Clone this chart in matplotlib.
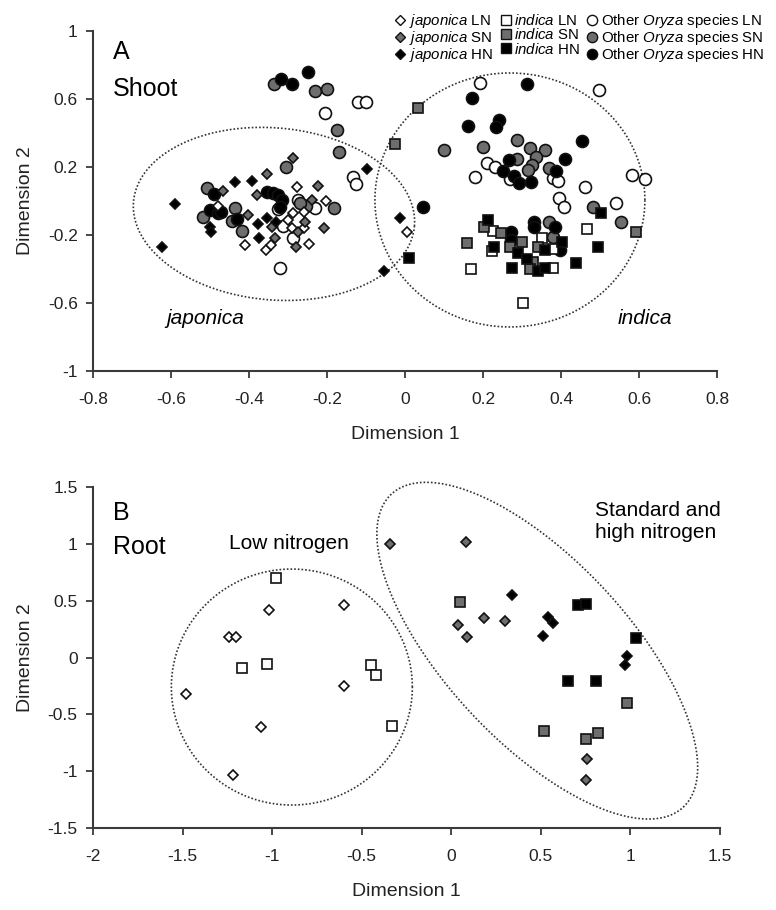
import numpy as np
import matplotlib
matplotlib.use("Agg")
import matplotlib.pyplot as plt
from matplotlib.lines import Line2D
from matplotlib.ticker import FuncFormatter

plt.rcParams['font.family'] = ['Liberation Sans', 'DejaVu Sans']
plt.rcParams['mathtext.fontset'] = 'custom'
plt.rcParams['mathtext.rm'] = 'Liberation Sans'
plt.rcParams['mathtext.it'] = 'Liberation Sans:italic'

# ---------------- Panel A (Shoot) data ----------------
jap_LN_A_x = [-0.278, -0.203, -0.286, -0.260, -0.299, -0.258, -0.290, -0.410, -0.356, -0.344, -0.245, -0.479, 0.004]
jap_LN_A_y = [0.084, 0.002, -0.073, -0.063, -0.112, -0.157, -0.157, -0.260, -0.288, -0.260, -0.250, -0.027, -0.180]
jap_SN_A_x = [-0.286, -0.355, -0.466, -0.380, -0.224, -0.239, -0.402, -0.342, -0.256, -0.274, -0.333, -0.280, -0.207]
jap_SN_A_y = [0.255, 0.157, 0.059, 0.035, 0.090, 0.006, -0.082, -0.151, -0.122, -0.184, -0.220, -0.270, -0.160]
jap_HN_A_x = [-0.097, -0.393, -0.436, -0.590, -0.500, -0.497, -0.376, -0.355, -0.331, -0.374, -0.622, -0.013, -0.054]
jap_HN_A_y = [0.190, 0.120, 0.110, -0.018, -0.150, -0.184, -0.137, -0.098, -0.122, -0.220, -0.270, -0.098, -0.410]

ind_LN_A_x = [0.466, 0.225, 0.222, 0.379, 0.168, 0.302, 0.350, 0.379]
ind_LN_A_y = [-0.167, -0.175, -0.292, -0.396, -0.402, -0.598, -0.220, -0.284]
ind_SN_A_x = [0.033, -0.026, 0.592, 0.160, 0.203, 0.245, 0.269, 0.299, 0.329, 0.321, 0.340]
ind_SN_A_y = [0.545, 0.333, -0.184, -0.245, -0.151, -0.190, -0.269, -0.239, -0.357, -0.400, -0.269]
ind_HN_A_x = [0.009, 0.503, 0.496, 0.438, 0.212, 0.229, 0.289, 0.312, 0.342, 0.359, 0.274, 0.359, 0.402]
ind_HN_A_y = [-0.337, -0.073, -0.269, -0.363, -0.112, -0.269, -0.308, -0.341, -0.412, -0.396, -0.396, -0.288, -0.239]

oth_LN_A_x = [-0.120, -0.100, -0.205, -0.134, -0.126, -0.274, -0.230, -0.326, -0.312, -0.286, -0.320,
              0.192, 0.498, 0.211, 0.231, 0.179, 0.269, 0.380, 0.393, 0.462, 0.581, 0.615, 0.395, 0.408, 0.540]
oth_LN_A_y = [0.580, 0.580, 0.520, 0.140, 0.100, 0.006, -0.043, -0.049, -0.147, -0.220, -0.396,
              0.692, 0.653, 0.222, 0.198, 0.139, 0.129, 0.133, 0.119, 0.080, 0.153, 0.129, 0.016, -0.033, -0.014]
oth_SN_A_x = [-0.335, -0.230, -0.200, -0.175, -0.170, -0.306, -0.508, -0.255, -0.182, -0.519, -0.436, -0.444, -0.417, -0.270,
              0.101, 0.201, 0.288, 0.321, 0.359, 0.335, 0.325, 0.316, 0.286, 0.370, 0.483, 0.553, 0.370, 0.379]
oth_SN_A_y = [0.686, 0.650, 0.660, 0.420, 0.290, 0.200, 0.075, -0.030, -0.040, -0.096, -0.043, -0.118, -0.176, -0.010,
              0.300, 0.316, 0.359, 0.310, 0.300, 0.260, 0.212, 0.182, 0.245, 0.196, -0.033, -0.122, -0.122, -0.214]
oth_HN_A_x = [-0.318, -0.290, -0.250, -0.490, -0.355, -0.338, -0.325, -0.316, -0.320, -0.500, -0.479, -0.473, -0.430,
              0.312, 0.173, 0.162, 0.241, 0.233, 0.455, 0.409, 0.267, 0.252, 0.386, 0.280, 0.292, 0.322, 0.045,
              0.272, 0.272, 0.331, 0.331, 0.385, 0.397]
oth_HN_A_y = [0.720, 0.690, 0.760, 0.040, 0.055, 0.045, 0.035, 0.006, -0.033, -0.053, -0.069, -0.063, -0.108,
              0.688, 0.604, 0.443, 0.476, 0.437, 0.355, 0.247, 0.241, 0.178, 0.176, 0.147, 0.108, 0.114, -0.037,
              -0.180, -0.229, -0.122, -0.151, -0.151, -0.288]

# ---------------- Panel B (Root) data ----------------
jap_LN_B_x = [-1.02, -0.60, -1.24, -1.20, -1.48, -0.60, -1.06, -1.22]
jap_LN_B_y = [0.42, 0.46, 0.18, 0.18, -0.32, -0.25, -0.61, -1.03]
ind_LN_B_x = [-0.98, -1.17, -1.03, -0.45, -0.42, -0.33]
ind_LN_B_y = [0.70, -0.09, -0.06, -0.07, -0.15, -0.60]
jap_SN_B_x = [-0.34, 0.08, 0.04, 0.09, 0.18, 0.30, 0.76, 0.75]
jap_SN_B_y = [1.00, 1.02, 0.29, 0.18, 0.35, 0.32, -0.89, -1.08]
ind_SN_B_x = [0.05, 0.98, 0.52, 0.75, 0.82]
ind_SN_B_y = [0.49, -0.40, -0.65, -0.72, -0.66]
jap_HN_B_x = [0.34, 0.54, 0.57, 0.51, 0.98, 0.97]
jap_HN_B_y = [0.55, 0.36, 0.30, 0.19, 0.01, -0.07]
ind_HN_B_x = [0.71, 0.75, 1.03, 0.65, 0.81]
ind_HN_B_y = [0.46, 0.47, 0.17, -0.21, -0.21]

xticks_A = [-0.8, -0.6, -0.4, -0.2, 0, 0.2, 0.4, 0.6, 0.8]
yticks_A = [-1, -0.6, -0.2, 0.2, 0.6, 1]
xticks_B = [-2, -1.5, -1, -0.5, 0, 0.5, 1, 1.5]
yticks_B = [-1.5, -1, -0.5, 0, 0.5, 1, 1.5]

GRAY = '#6e6e6e'
EDGE = '#111111'
AXC = '#3a3a3a'

W, H, DPI = 7.76, 9.10, 100
fig = plt.figure(figsize=(W, H), dpi=DPI)
axA = fig.add_axes([93/776, 1-371/910, 624/776, 340/910])
axB = fig.add_axes([93/776, 1-828/910, 627/776, 341/910])

fmt = FuncFormatter(lambda v, p: ('%g' % round(v, 2)))


def style(ax, xt, yt):
    ax.set_xticks(xt)
    ax.set_yticks(yt)
    ax.set_xlim(xt[0], xt[-1])
    ax.set_ylim(yt[0], yt[-1])
    ax.xaxis.set_major_formatter(fmt)
    ax.yaxis.set_major_formatter(fmt)
    for s in ['top', 'right']:
        ax.spines[s].set_visible(False)
    for s in ['left', 'bottom']:
        ax.spines[s].set_color(AXC)
        ax.spines[s].set_linewidth(1.5)
    ax.tick_params(direction='out', length=5, width=1.3, color=AXC,
                   labelsize=12.5, labelcolor='#222222')
    ax.tick_params(axis='x', pad=10)
    ax.tick_params(axis='y', pad=6)
    ax.set_xlabel('Dimension 1', fontsize=14, color='#222222', labelpad=14)
    ax.set_ylabel('Dimension 2', fontsize=14, color='#222222', labelpad=10)


def ellipse(ax, cx, cy, a_px, b_px, ang_deg):
    pos = ax.get_position()
    x0, x1 = ax.get_xlim()
    y0, y1 = ax.get_ylim()
    sx = pos.width * W * DPI / (x1 - x0)
    sy = pos.height * H * DPI / (y1 - y0)
    t = np.linspace(0, 2 * np.pi, 400)
    th = np.deg2rad(ang_deg)
    dx = a_px * np.cos(t) * np.cos(th) - b_px * np.sin(t) * np.sin(th)
    dy = a_px * np.cos(t) * np.sin(th) + b_px * np.sin(t) * np.cos(th)
    ax.plot(cx + dx / sx, cy + dy / sy, ls=(0, (1, 1.2)), color='#333333',
            lw=1.2, clip_on=False, zorder=1)


def pts(ax, x, y, marker, fc, ms, label=None):
    ax.plot(x, y, ls='none', marker=marker, mfc=fc, mec=EDGE, mew=1.2,
            ms=ms, label=label, zorder=3)


style(axA, xticks_A, yticks_A)
style(axB, xticks_B, yticks_B)

# Panel A
ellipse(axA, -0.336, -0.076, 141, 86, -5)
ellipse(axA, 0.269, 0.006, 135, 127, 0)

MS_O, MS_S, MS_D = 8.6, 7.6, 5.4
pts(axA, oth_LN_A_x, oth_LN_A_y, 'o', 'white', MS_O)
pts(axA, oth_SN_A_x, oth_SN_A_y, 'o', GRAY, MS_O)
pts(axA, oth_HN_A_x, oth_HN_A_y, 'o', 'black', MS_O)
pts(axA, ind_LN_A_x, ind_LN_A_y, 's', 'white', MS_S)
pts(axA, ind_SN_A_x, ind_SN_A_y, 's', GRAY, MS_S)
pts(axA, ind_HN_A_x, ind_HN_A_y, 's', 'black', MS_S)
pts(axA, jap_LN_A_x, jap_LN_A_y, 'D', 'white', MS_D)
pts(axA, jap_SN_A_x, jap_SN_A_y, 'D', GRAY, MS_D)
pts(axA, jap_HN_A_x, jap_HN_A_y, 'D', 'black', MS_D)

axA.text(0.032, 0.938, 'A', transform=axA.transAxes, fontsize=18, va='center', ha='left')
axA.text(0.032, 0.829, 'Shoot', transform=axA.transAxes, fontsize=18, va='center', ha='left')
axA.text(-0.513, -0.69, 'japonica', fontsize=15, style='italic', ha='center', va='center')
axA.text(0.615, -0.69, 'indica', fontsize=15, style='italic', ha='center', va='center')

# Legend
def h(marker, fc, ms):
    return Line2D([], [], ls='none', marker=marker, mfc=fc, mec=EDGE, mew=1.0, ms=ms)

handles = [h('D', 'white', 5.0), h('D', GRAY, 5.0), h('D', 'black', 5.0),
           h('s', 'white', 7.0), h('s', GRAY, 7.0), h('s', 'black', 7.0),
           h('o', 'white', 7.4), h('o', GRAY, 7.4), h('o', 'black', 7.4)]
labels = [r'$\it{japonica}$ LN', r'$\it{japonica}$ SN', r'$\it{japonica}$ HN',
          r'$\it{indica}$ LN', r'$\it{indica}$ SN', r'$\it{indica}$ HN',
          r'Other $\it{Oryza}$ species LN', r'Other $\it{Oryza}$ species SN', r'Other $\it{Oryza}$ species HN']
fig.legend(handles, labels, ncol=3, loc='upper right', bbox_to_anchor=(764/776, 1 - 12/910),
           frameon=False, fontsize=10.8, handlelength=0.8, handletextpad=0.15,
           columnspacing=0.45, labelspacing=-0.05, borderpad=0, borderaxespad=0)

# Panel B
ellipse(axB, -0.89, -0.26, 120.5, 118, 0)
ellipse(axB, 0.48, 0.06, 214, 91, -47)

MSB_S, MSB_D = 7.8, 5.0
pts(axB, jap_LN_B_x, jap_LN_B_y, 'D', 'white', MSB_D)
pts(axB, ind_LN_B_x, ind_LN_B_y, 's', 'white', MSB_S)
pts(axB, jap_SN_B_x, jap_SN_B_y, 'D', GRAY, MSB_D)
pts(axB, ind_SN_B_x, ind_SN_B_y, 's', GRAY, MSB_S)
pts(axB, jap_HN_B_x, jap_HN_B_y, 'D', 'black', MSB_D)
pts(axB, ind_HN_B_x, ind_HN_B_y, 's', 'black', MSB_S)

axB.text(0.032, 0.924, 'B', transform=axB.transAxes, fontsize=18, va='center', ha='left')
axB.text(0.032, 0.824, 'Root', transform=axB.transAxes, fontsize=18, va='center', ha='left')
axB.text(-1.24, 1.0, 'Low nitrogen', fontsize=15, ha='left', va='center')
axB.text(0.80, 1.20, 'Standard and\nhigh nitrogen', fontsize=15, ha='left', va='center', linespacing=1.2)

fig.savefig('out.png', dpi=DPI)
